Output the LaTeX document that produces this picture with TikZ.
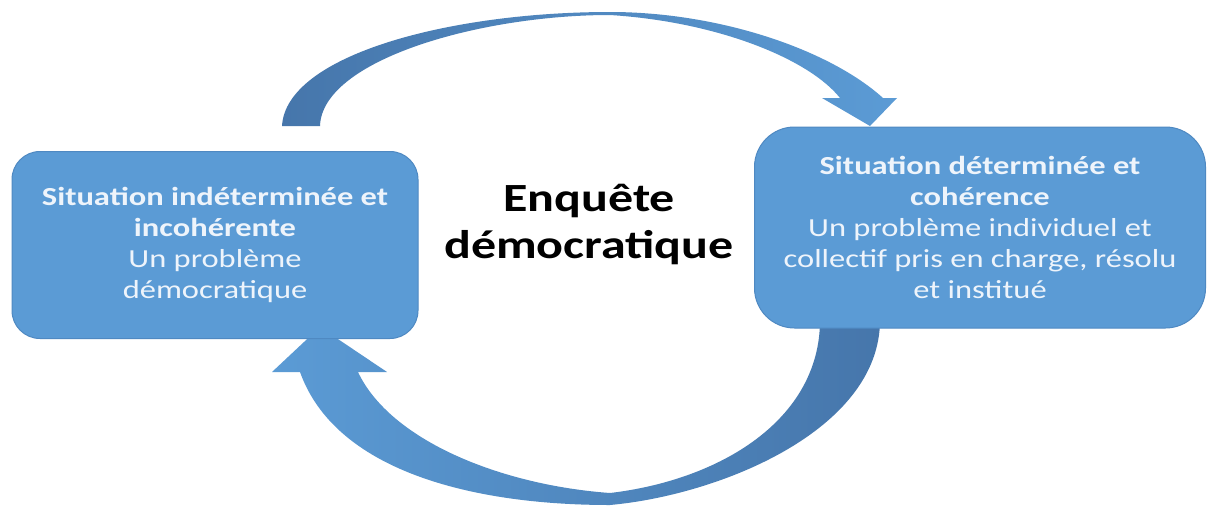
\documentclass[tikz,border=0pt]{standalone}
\usepackage{fontspec}
\setmainfont{Carlito}[FakeStretch=1.25]
\definecolor{boxfill}{HTML}{5B9BD5}
\definecolor{boxline}{HTML}{4F89C2}
\definecolor{arrlight}{HTML}{5B9BD5}
\definecolor{arrdark}{HTML}{4676AB}
\definecolor{boxtext}{HTML}{EEF4FB}
\begin{document}
\begin{tikzpicture}[x=1pt,y=-1pt,
  box/.style={draw=boxline, line width=1pt, fill=boxfill, text=boxtext, align=center,
    inner sep=0pt, font=\fontsize{26}{31}\selectfont},
  bigarrow/.style={draw=none}]
\fill[white] (0,0) rectangle (1209,506);
\useasboundingbox (0,0) rectangle (1209,506);
% top curved arrow (left box -> right box)
\path[bigarrow, left color=arrdark, right color=arrlight]
  (282,126) .. controls (286,55) and (450,12) .. (610,12)
  .. controls (720,12) and (830,50) .. (883,98)
  -- (897,98) -- (870,126) -- (822,98) -- (840,98)
  .. controls (810,60) and (720,22) .. (610,15)
  .. controls (480,15) and (322,60) .. (320,126) -- cycle;
% bottom curved arrow (right box -> left box)
\path[bigarrow, left color=arrlight, middle color=arrlight, right color=arrdark]
  (880,320) .. controls (880,430) and (720,495) .. (610,505)
  .. controls (470,505) and (335,470) .. (300,372)
  -- (272,372) -- (320,327) -- (387,372) -- (358,372)
  .. controls (390,440) and (500,485) .. (610,493)
  .. controls (720,480) and (820,420) .. (820,320) -- cycle;
% boxes
\node[box, minimum width=406pt, minimum height=187pt, rounded corners=28pt] (left) at (215,245)
  {\textbf{Situation indéterminée et}\\\textbf{incohérente}\\Un problème\\démocratique};
\node[box, minimum width=451pt, minimum height=201pt, rounded corners=40pt] (right) at (980,227.5)
  {\textbf{Situation déterminée et}\\\textbf{cohérence}\\Un problème individuel et\\collectif pris en charge, résolu\\et institué};
% title
\node[align=center, font=\fontsize{40}{47}\selectfont\bfseries] (title) at (589,224)
  {Enquête\\démocratique};
\end{tikzpicture}
\end{document}
